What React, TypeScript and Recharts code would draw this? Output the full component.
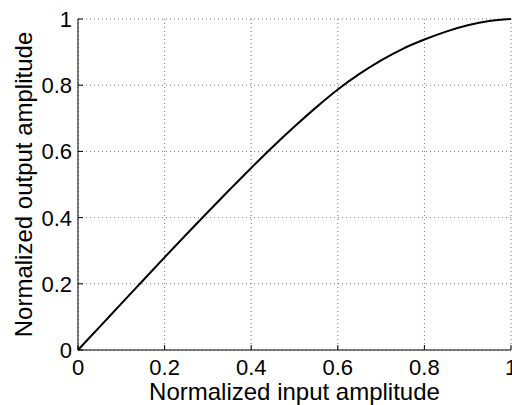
import React from 'react';
import { LineChart, Line, XAxis, YAxis, CartesianGrid } from 'recharts';

const inputAmplitude = [0, 0.05, 0.1, 0.15, 0.2, 0.25, 0.3, 0.35, 0.4, 0.45, 0.5, 0.55, 0.6, 0.65, 0.7, 0.75, 0.8, 0.85, 0.9, 0.95, 1];
const outputAmplitude = [0, 0.07, 0.14, 0.21, 0.28, 0.349, 0.417, 0.484, 0.55, 0.614, 0.675, 0.733, 0.787, 0.834, 0.875, 0.91, 0.938, 0.962, 0.981, 0.994, 1];
const xTicks = [0, 0.2, 0.4, 0.6, 0.8, 1];
const yTicks = [0, 0.2, 0.4, 0.6, 0.8, 1];
const xLabel = 'Normalized input amplitude';
const yLabel = 'Normalized output amplitude';

const data = inputAmplitude.map((x, i) => ({ x, y: outputAmplitude[i] }));

const FONT = '"Liberation Sans", Arial, Helvetica, sans-serif';

function XTick(props: any) {
  const { x, y, payload } = props;
  return (
    <g>
      <line x1={x} y1={y} x2={x} y2={y - 5} stroke="#000" strokeWidth={1} />
      <text x={x} y={y + 25} textAnchor="middle" fontSize={22} fontFamily={FONT} fill="#000">
        {String(payload.value)}
      </text>
    </g>
  );
}

function YTick(props: any) {
  const { x, y, payload } = props;
  return (
    <g>
      <line x1={x} y1={y} x2={x + 5} y2={y} stroke="#000" strokeWidth={1} />
      <text x={x - 6} y={y + 8} textAnchor="end" fontSize={22} fontFamily={FONT} fill="#000">
        {String(payload.value)}
      </text>
    </g>
  );
}

function XLabel(props: any) {
  const vb = props.viewBox || { x: 78, y: 350, width: 433, height: 55 };
  return (
    <text x={vb.x + vb.width / 2} y={vb.y + vb.height - 5} textAnchor="middle" fontSize={24} fontFamily={FONT} fill="#000">
      {xLabel}
    </text>
  );
}

function YLabel(props: any) {
  const vb = props.viewBox || { x: 0, y: 19, width: 78, height: 331 };
  const cx = vb.x + 32;
  const cy = vb.y + vb.height / 2;
  return (
    <text x={0} y={0} transform={`translate(${cx}, ${cy}) rotate(-90)`} textAnchor="middle" fontSize={24} fontFamily={FONT} fill="#000">
      {yLabel}
    </text>
  );
}

export default function App() {
  return (
    <div style={{ position: 'absolute', left: 0, top: 0, width: 512, height: 405, background: '#fff' }}>
      <LineChart width={512} height={405} data={data} margin={{ top: 19, right: 1, bottom: 0, left: 0 }}>
        <CartesianGrid stroke="#777" strokeDasharray="1 3" />
        <XAxis
          dataKey="x"
          type="number"
          domain={[0, 1]}
          ticks={xTicks}
          interval={0}
          height={55}
          tickSize={0}
          tickMargin={0}
          tickLine={false}
          axisLine={{ stroke: '#000', strokeWidth: 1 }}
          tick={<XTick />}
          label={{ content: <XLabel /> }}
        />
        <YAxis
          type="number"
          domain={[0, 1]}
          ticks={yTicks}
          interval={0}
          width={78}
          tickSize={0}
          tickMargin={0}
          tickLine={false}
          axisLine={{ stroke: '#000', strokeWidth: 1 }}
          tick={<YTick />}
          label={{ content: <YLabel /> }}
        />
        <Line dataKey="y" type="monotone" stroke="#000" strokeWidth={2} dot={false} isAnimationActive={false} />
      </LineChart>
    </div>
  );
}
